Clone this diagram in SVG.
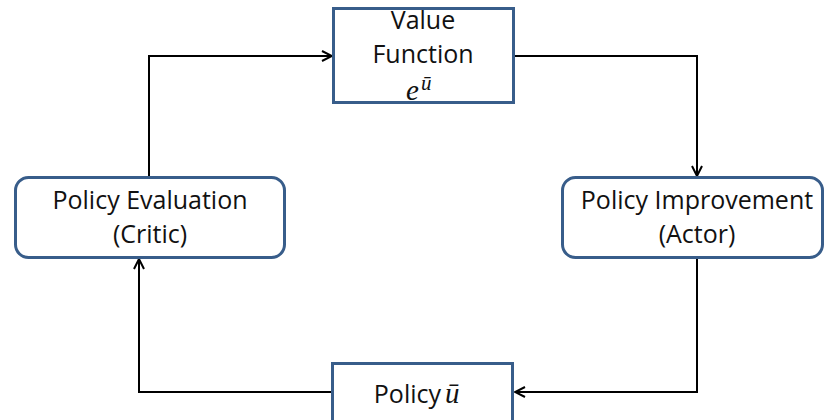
<svg xmlns="http://www.w3.org/2000/svg" width="826" height="420" viewBox="0 0 826 420">
<defs>
<style>
.box{fill:#fff;stroke:#385D8A;stroke-width:3}
.t{font-family:"Open Sans","Noto Sans","Liberation Sans",sans-serif;font-size:25px;fill:#111;text-anchor:middle}
.m{font-family:"Liberation Serif","DejaVu Serif",serif;font-style:italic;fill:#111}
.c{fill:none;stroke:#000;stroke-width:2}
</style>
<marker id="a" viewBox="0 0 12 12" refX="11" refY="6" markerWidth="12" markerHeight="12" markerUnits="userSpaceOnUse" orient="auto">
<path d="M1,1 L11,6 L1,11" fill="none" stroke="#000" stroke-width="2"/>
</marker>
</defs>
<rect width="826" height="420" fill="#fff"/>
<g id="connectors">
<path class="c" d="M149,177 V56 H332" marker-end="url(#a)"/>
<path class="c" d="M515,56 H697 V176" marker-end="url(#a)"/>
<path class="c" d="M697,259 V392 H515" marker-end="url(#a)"/>
<path class="c" d="M332,392 H139 V259" marker-end="url(#a)"/>
</g>
<g id="value-function">
<rect class="box" x="333.5" y="8.5" width="180" height="94"/>
<text class="t" x="423" y="29">Value</text>
<text class="t" x="423" y="63">Function</text>
<text class="m" x="406" y="100" font-size="29">e<tspan font-size="21" dx="2" dy="-10">ū</tspan></text>
</g>
<g id="policy-evaluation">
<rect class="box" x="15.5" y="177.5" width="269" height="80" rx="13"/>
<text class="t" x="150" y="209">Policy Evaluation</text>
<text class="t" x="150" y="243">(Critic)</text>
</g>
<g id="policy-improvement">
<rect class="box" x="562.5" y="177.5" width="260" height="80" rx="13"/>
<text class="t" x="697" y="209">Policy Improvement</text>
<text class="t" x="697" y="243">(Actor)</text>
</g>
<g id="policy">
<rect class="box" x="332.5" y="363.5" width="180" height="70"/>
<text class="t" x="441" y="403" style="text-anchor:end">Policy</text>
<text class="m" x="445" y="403" font-size="29">ū</text>
</g>
</svg>
